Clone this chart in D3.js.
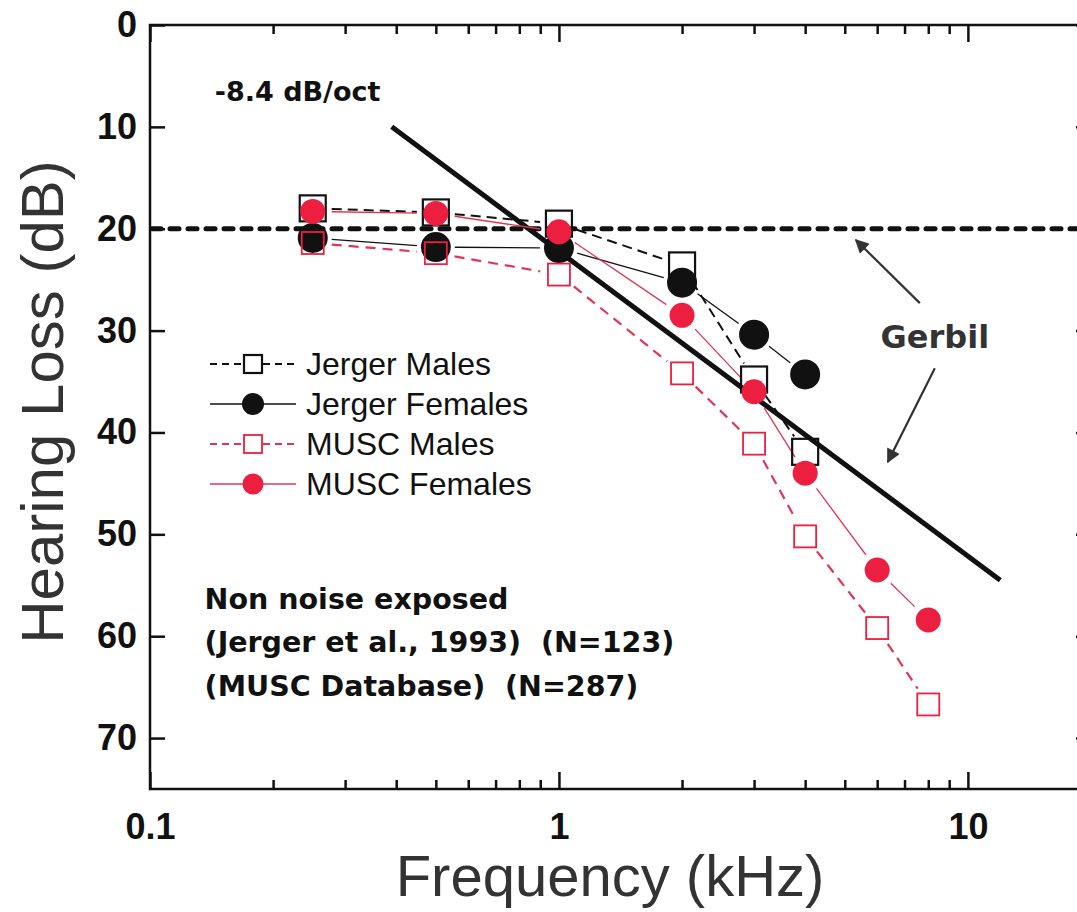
<!DOCTYPE html>
<html>
<head>
<meta charset="utf-8">
<script src="https://cdn.jsdelivr.net/npm/d3@7"></script>
<style>
  body { margin: 0; background: #fff; }
  svg text { white-space: pre; }
</style>
</head>
<body>
<div id="chart"></div>
<script>
// frequencies (kHz) at which each group was measured
var freqsJerger = [0.25, 0.5, 1, 2, 3, 4];
var freqsMusc = [0.25, 0.5, 1, 2, 3, 4, 6, 8];

// hearing loss (dB)
var jergerMales = [18.0, 18.4, 19.5, 23.6, 34.8, 41.9];
var jergerFemales = [20.9, 21.8, 21.9, 25.3, 30.4, 34.3];
var muscMales = [21.4, 22.4, 24.5, 34.2, 41.1, 50.2, 59.2, 66.7];
var muscFemales = [18.3, 18.5, 20.3, 28.5, 36.0, 44.0, 53.5, 58.4];

// gerbil reference lines
var gerbilLevel = 20;
var slopeLine = [[0.39, 10], [12, 54.5]];

var yTicks = [0, 10, 20, 30, 40, 50, 60, 70];
var xMajorTicks = [0.1, 1, 10];
var xTickLabels = ['0.1', '1', '10'];
var legendLabels = ['Jerger Males', 'Jerger Females', 'MUSC Males', 'MUSC Females'];
var noteLines = ['Non noise exposed', '(Jerger et al., 1993)  (N=123)', '(MUSC Database)  (N=287)'];

var RED = '#ec1f40';
var LINE_RED = '#e03654';
var INK = '#111';

var width = 1077, height = 912;
var svg = d3.select('#chart').append('svg')
  .attr('width', width)
  .attr('height', height);

var x = d3.scaleLog().domain([0.1, 20]).range([150, 1091]);
var y = d3.scaleLinear().domain([0, 75]).range([25, 789]);

var minorTicks = [];
[0.1, 1, 10].forEach(function(dec) {
  for (var i = 2; i <= 9; i++) {
    if (dec * i <= 20) minorTicks.push(dec * i);
  }
});

function styleAxis(g) {
  g.select('.domain').remove();
  g.selectAll('.tick line').attr('stroke', INK).attr('stroke-width', 2.5);
  g.selectAll('.tick text')
    .attr('fill', INK)
    .style('font-family', '"Liberation Sans", Arial, sans-serif')
    .style('font-weight', 'bold')
    .style('font-size', '36px');
}

// bottom axis: minor + major ticks pointing up
svg.append('g')
  .attr('transform', 'translate(0,' + y(75) + ')')
  .call(d3.axisBottom(x).tickValues(minorTicks).tickSize(-9).tickFormat(''))
  .call(styleAxis);
svg.append('g')
  .attr('transform', 'translate(0,' + y(75) + ')')
  .call(d3.axisBottom(x).tickValues(xMajorTicks).tickSize(-17).tickPadding(24)
    .tickFormat(function(d, i) { return xTickLabels[i]; }))
  .call(styleAxis);

// top axis mirrors the bottom one, no labels
svg.append('g')
  .attr('transform', 'translate(0,' + y(0) + ')')
  .call(d3.axisTop(x).tickValues(minorTicks).tickSize(-9).tickFormat(''))
  .call(styleAxis);
svg.append('g')
  .attr('transform', 'translate(0,' + y(0) + ')')
  .call(d3.axisTop(x).tickValues(xMajorTicks).tickSize(-17).tickFormat(''))
  .call(styleAxis);

// left and right axes
svg.append('g')
  .attr('transform', 'translate(' + x(0.1) + ',0)')
  .call(d3.axisLeft(y).tickValues(yTicks).tickSize(-15).tickPadding(13))
  .call(styleAxis);
svg.append('g')
  .attr('transform', 'translate(' + x(20) + ',0)')
  .call(d3.axisRight(y).tickValues(yTicks).tickSize(-15).tickFormat(''))
  .call(styleAxis);

// frame
svg.append('rect')
  .attr('x', x(0.1))
  .attr('y', y(0))
  .attr('width', x(20) - x(0.1))
  .attr('height', y(75) - y(0))
  .attr('fill', 'none')
  .attr('stroke', INK)
  .attr('stroke-width', 2.5);

// axis titles
svg.append('text')
  .attr('x', 610)
  .attr('y', 896)
  .attr('text-anchor', 'middle')
  .attr('fill', '#333')
  .style('font-family', '"Liberation Sans", Arial, sans-serif')
  .style('font-size', '58px')
  .text('Frequency (kHz)');

svg.append('text')
  .attr('transform', 'translate(63,402) rotate(-90)')
  .attr('text-anchor', 'middle')
  .attr('fill', '#333')
  .style('font-family', '"Liberation Sans", Arial, sans-serif')
  .style('font-size', '60px')
  .text('Hearing Loss (dB)');

// gerbil: flat 20 dB line and the sloping line
svg.append('line')
  .attr('x1', x(0.1) + 2)
  .attr('x2', x(20))
  .attr('y1', y(gerbilLevel))
  .attr('y2', y(gerbilLevel))
  .attr('stroke', INK)
  .attr('stroke-width', 5)
  .attr('stroke-linecap', 'round')
  .attr('stroke-dasharray', '9,9');

svg.append('line')
  .attr('x1', x(slopeLine[0][0]))
  .attr('y1', y(slopeLine[0][1]))
  .attr('x2', x(slopeLine[1][0]))
  .attr('y2', y(slopeLine[1][1]))
  .attr('stroke', INK)
  .attr('stroke-width', 5);

// series
var series = [
  { name: legendLabels[0], freqs: freqsJerger, values: jergerMales, shape: 'square', size: 26, legendSize: 18,
    color: INK, fill: 'none', sw: 2.2, lineColor: INK, lineWidth: 2, dash: '10,6' },
  { name: legendLabels[1], freqs: freqsJerger, values: jergerFemales, shape: 'circle', size: 15, legendSize: 11,
    color: INK, fill: INK, sw: 0, lineColor: INK, lineWidth: 1.3, dash: null },
  { name: legendLabels[2], freqs: freqsMusc, values: muscMales, shape: 'square', size: 22, legendSize: 18,
    color: RED, fill: 'none', sw: 1.8, lineColor: LINE_RED, lineWidth: 2.2, dash: '10,7' },
  { name: legendLabels[3], freqs: freqsMusc, values: muscFemales, shape: 'circle', size: 12.5, legendSize: 10.5,
    color: RED, fill: RED, sw: 0, lineColor: LINE_RED, lineWidth: 1.3, dash: null }
];

var GAP = 19;

series.forEach(function(s) {
  var pts = s.freqs.map(function(f, i) { return [x(f), y(s.values[i])]; });
  var segs = [];
  for (var i = 0; i < pts.length - 1; i++) {
    var a = pts[i], b = pts[i + 1];
    var dx = b[0] - a[0], dy = b[1] - a[1];
    var len = Math.sqrt(dx * dx + dy * dy);
    var ux = dx / len, uy = dy / len;
    segs.push([a[0] + ux * GAP, a[1] + uy * GAP, b[0] - ux * GAP, b[1] - uy * GAP]);
  }
  svg.append('g').selectAll('line')
    .data(segs)
    .enter().append('line')
    .attr('x1', function(d) { return d[0]; })
    .attr('y1', function(d) { return d[1]; })
    .attr('x2', function(d) { return d[2]; })
    .attr('y2', function(d) { return d[3]; })
    .attr('stroke', s.lineColor)
    .attr('stroke-width', s.lineWidth)
    .attr('stroke-dasharray', s.dash);
});

function drawMarker(g, s, cx, cy, size) {
  if (s.shape === 'circle') {
    g.append('circle')
      .attr('cx', cx).attr('cy', cy)
      .attr('r', size)
      .attr('fill', s.fill);
  } else {
    var half = size / 2;
    g.append('rect')
      .attr('x', cx - half).attr('y', cy - half)
      .attr('width', half * 2).attr('height', half * 2)
      .attr('fill', s.fill)
      .attr('stroke', s.color)
      .attr('stroke-width', s.sw);
  }
}

// draw order: black squares, black dots, red squares, red dots
series.forEach(function(s) {
  var g = svg.append('g');
  s.freqs.forEach(function(f, i) {
    drawMarker(g, s, x(f), y(s.values[i]), s.size);
  });
});

// legend
var legend = svg.append('g');
series.forEach(function(s, i) {
  var cy = 364 + i * 40;
  var row = legend.append('g');
  [[210, 243], [263, 296]].forEach(function(p) {
    row.append('line')
      .attr('x1', p[0]).attr('x2', p[1])
      .attr('y1', cy).attr('y2', cy)
      .attr('stroke', s.lineColor)
      .attr('stroke-width', s.dash ? 2 : 1.3)
      .attr('stroke-dasharray', s.dash ? '7,5' : null);
  });
  drawMarker(row, s, 253, cy, s.legendSize);
  row.append('text')
    .attr('x', 306)
    .attr('y', cy + 11)
    .attr('fill', INK)
    .style('font-family', '"Liberation Sans", Arial, sans-serif')
    .style('font-size', '32px')
    .text(s.name);
});

// annotations
function boldText(txt, xv, yv, size, color, anchor) {
  return svg.append('text')
    .attr('x', x(xv))
    .attr('y', y(yv))
    .attr('text-anchor', anchor || 'start')
    .attr('fill', color || INK)
    .style('font-family', '"DejaVu Sans", sans-serif')
    .style('font-weight', 'bold')
    .style('font-size', size + 'px')
    .text(txt);
}

boldText('-8.4 dB/oct', 0.144, 7.5, 27);
boldText('Gerbil', 8.3, 31.7, 32, '#333', 'middle');

noteLines.forEach(function(t, i) {
  boldText(t, 0.136, 57.3 + i * 4.3, 28.5);
});

// arrows pointing from the label to the gerbil lines
svg.append('defs').append('marker')
  .attr('id', 'head')
  .attr('viewBox', '0 0 10 10')
  .attr('refX', 9).attr('refY', 5)
  .attr('markerUnits', 'userSpaceOnUse')
  .attr('orient', 'auto')
  .attr('markerWidth', 18).attr('markerHeight', 14)
  .append('path')
  .attr('d', 'M0,0 L10,5 L0,10 Z')
  .attr('fill', '#333');

var arrows = [[[7.63, 27.3], [5.32, 21.1]], [[8.30, 33.7], [6.37, 42.9]]];
svg.append('g').selectAll('line')
  .data(arrows)
  .enter().append('line')
  .attr('x1', function(d) { return x(d[0][0]); })
  .attr('y1', function(d) { return y(d[0][1]); })
  .attr('x2', function(d) { return x(d[1][0]); })
  .attr('y2', function(d) { return y(d[1][1]); })
  .attr('stroke', '#333')
  .attr('stroke-width', 2.2)
  .attr('marker-end', 'url(#head)');
</script>
</body>
</html>
